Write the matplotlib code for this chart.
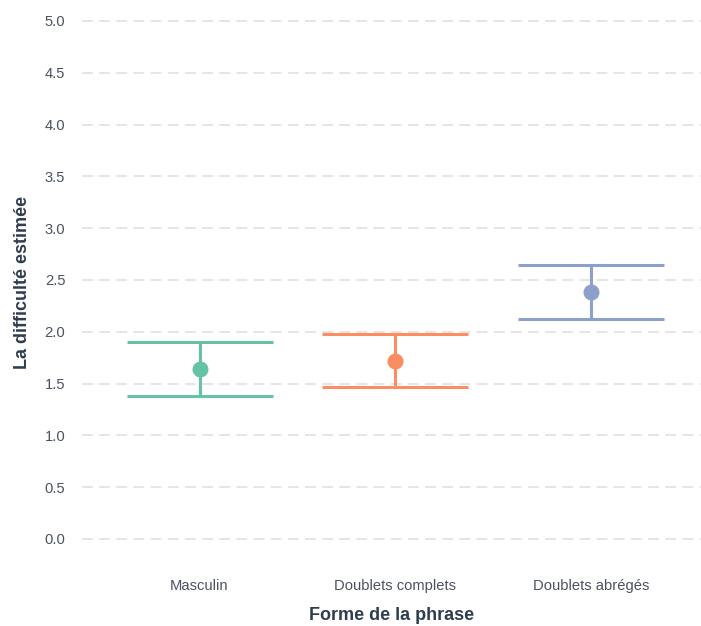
import matplotlib
matplotlib.use("Agg")
import matplotlib.pyplot as plt

categories = ["Masculin", "Doublets complets", "Doublets abrégés"]
means = [1.64, 1.72, 2.38]
upper = [1.90, 1.98, 2.64]
lower = [1.38, 1.47, 2.12]
colors = ["#66c2a5", "#fc8d62", "#8da0cb"]
yticks = [0.0, 0.5, 1.0, 1.5, 2.0, 2.5, 3.0, 3.5, 4.0, 4.5, 5.0]

plt.rcParams['font.family'] = ['Liberation Sans', 'DejaVu Sans']

fig = plt.figure(figsize=(7.01, 6.26), dpi=100)
ax = fig.add_axes([82/701, 66/626, 1 - 82/701, 555/626])

for i, (m, u, l, c) in enumerate(zip(means, upper, lower, colors)):
    ax.errorbar([i], [m], yerr=[[m - l], [u - m]], fmt='o', color=c,
                ecolor=c, elinewidth=2.2, capsize=52.5, capthick=2.2,
                markersize=10.5, zorder=3)

ax.set_xlim(-0.6, 2.56)
ax.set_ylim(-0.203, 5.154)
ax.set_yticks(yticks)
ax.set_yticklabels([f"{v:.1f}" for v in yticks])
ax.set_xticks(range(len(categories)))
ax.set_xticklabels(categories)

ax.grid(axis='y', color='#e3e3e3', linestyle=(0, (6, 3.5)), linewidth=1.3)
ax.grid(axis='x', visible=False)
ax.set_axisbelow(True)
for s in ax.spines.values():
    s.set_visible(False)
ax.tick_params(axis='both', length=0, labelsize=10.6, labelcolor='#4a5260')
ax.tick_params(axis='x', pad=14)
ax.tick_params(axis='y', pad=12)

ax.set_xlabel("Forme de la phrase", fontsize=13, fontweight='bold', color='#2f3d4f', labelpad=10)
ax.set_ylabel("La difficulté estimée", fontsize=13, fontweight='bold', color='#2f3d4f', labelpad=10)

fig.savefig("out.png", dpi=100)
